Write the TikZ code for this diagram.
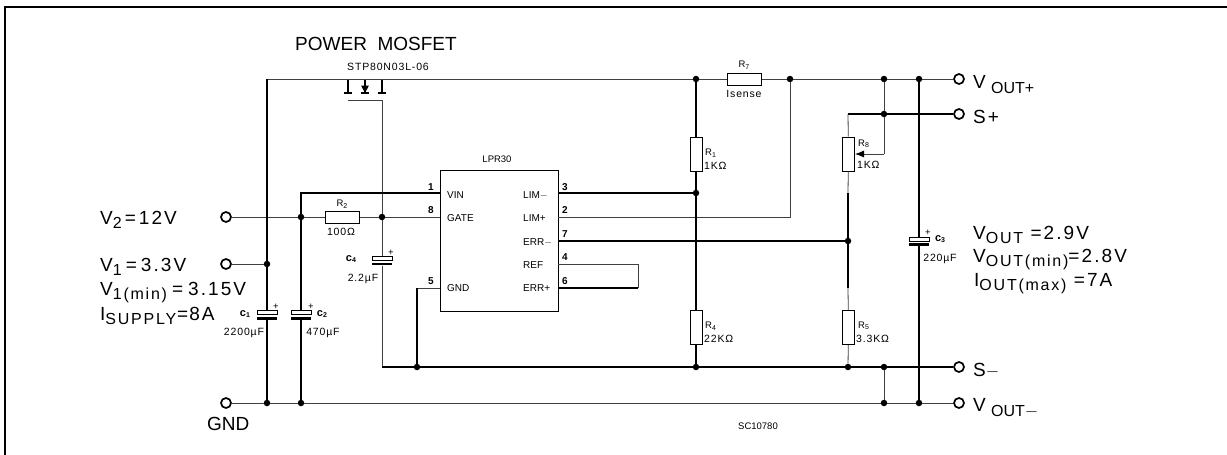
\documentclass[tikz,border=0pt]{standalone}
\usepackage{fontspec}
\setmainfont{Liberation Sans}
\newfontfamily\widefont[LetterSpace=11]{Liberation Sans}
\newfontfamily\valfont[LetterSpace=8]{Liberation Sans}
\usetikzlibrary{arrows.meta}

\newcommand{\lowsub}[2][4pt]{\raisebox{-#1}{\fontsize{16}{16}\selectfont #2}}
\newcommand{\tinysub}[1]{\raisebox{-1.5pt}{\fontsize{7}{7}\selectfont #1}}

\tikzset{
    wire/.style={line width=0.8pt,black!75},
    bus/.style={line width=1.5pt,black},
    dotstyle/.style={draw=none,fill=black,shape=circle,minimum size=6.5pt,inner sep=0pt},
    termstyle/.style={draw,shape=circle,line width=1.7pt,minimum size=10pt,inner sep=0pt,fill=white},
    resH/.style={draw,line width=1pt,minimum width=34pt,minimum height=12pt,inner sep=0pt},
    resV/.style={draw,line width=1pt,minimum width=12pt,minimum height=34pt,inner sep=0pt},
    capTop/.style={draw,line width=0.9pt,minimum width=20pt,minimum height=4pt,inner sep=0pt},
    capBot/.style={draw=none,fill=black,minimum width=20pt,minimum height=2.6pt,inner sep=0pt},
    biglabel/.style={anchor=base west,inner sep=0pt,font=\fontsize{19}{19}\selectfont},
    widelabel/.style={biglabel,font=\fontsize{19}{19}\selectfont\widefont},
    smalltext/.style={inner sep=0pt,font=\fontsize{9.5}{10}\selectfont},
    caplabel/.style={inner sep=0pt,font=\fontsize{11}{11}\selectfont\bfseries},
    valtext/.style={inner sep=0pt,font=\fontsize{10.5}{11}\selectfont\valfont},
    pinlabel/.style={inner sep=0pt,font=\fontsize{10}{10}\selectfont},
    pinnumber/.style={inner sep=0pt,font=\fontsize{10}{10}\selectfont\bfseries}
}

\begin{document}
\begin{tikzpicture}[x=1pt,y=-1pt]

    \useasboundingbox (0,0) rectangle (1227,455);
    \draw[line width=1.4pt] (5,455) -- (5,7) -- (1227,7);

    % terminals
    \node[termstyle] (tV2) at (226,217) {};
    \node[termstyle] (tV1) at (226,264) {};
    \node[termstyle] (tGND) at (226,403) {};
    \node[termstyle] (tVp) at (959,79) {};
    \node[termstyle] (tSp) at (959,114) {};
    \node[termstyle] (tSm) at (959,367) {};
    \node[termstyle] (tVm) at (959,403) {};

    % junctions
    \node[dotstyle] (d1) at (267,264) {};
    \node[dotstyle] (d2) at (267,403) {};
    \node[dotstyle] (d3) at (301,217) {};
    \node[dotstyle] (d4) at (301,403) {};
    \node[dotstyle] (d5) at (382,217) {};
    \node[dotstyle] (d6) at (417,367) {};
    \node[dotstyle] (d7) at (696,79) {};
    \node[dotstyle] (d8) at (696,193) {};
    \node[dotstyle] (d9) at (696,367) {};
    \node[dotstyle] (d10) at (790,79) {};
    \node[dotstyle] (d11) at (884,79) {};
    \node[dotstyle] (d12) at (919,79) {};
    \node[dotstyle] (d13) at (884,114) {};
    \node[dotstyle] (d14) at (848,241) {};
    \node[dotstyle] (d15) at (848,367) {};
    \node[dotstyle] (d16) at (884,367) {};
    \node[dotstyle] (d17) at (884,403) {};
    \node[dotstyle] (d18) at (919,403) {};

    % resistors
    \node[resH] (r2) at (342,217) {};
    \node[resH] (r7) at (744,79) {};
    \node[resV] (r1) at (696,154) {};
    \node[resV] (r4) at (696,327.5) {};
    \node[resV] (r8) at (848.5,154) {};
    \node[resV] (r5) at (848.5,327.5) {};

    % capacitors
    \node[capTop] (c1t) at (267,312) {};
    \node[capBot] (c1b) at (267,318.5) {};
    \node[capTop] (c2t) at (301,312) {};
    \node[capBot] (c2b) at (301,318.5) {};
    \node[capTop] (c4t) at (382,258) {};
    \node[capBot] (c4b) at (382,264) {};
    \node[capTop] (c3t) at (919,239) {};
    \node[capBot] (c3b) at (919,244.5) {};

    % LPR30
    \node[draw,line width=1pt,minimum width=118pt,minimum height=141pt,inner sep=0pt] (ic) at (499,240.5) {};
    \coordinate (i1) at (440,193);
    \coordinate (i8) at (440,217);
    \coordinate (i5) at (440,288);
    \coordinate (i3) at (558,193);
    \coordinate (i2) at (558,217);
    \coordinate (i7) at (558,241);
    \coordinate (i4) at (558,264);
    \coordinate (i6) at (558,288);

    % helper points
    \coordinate (a1) at (267,79);
    \coordinate (a2) at (301,193);
    \coordinate (a3) at (417,288);
    \coordinate (a4) at (638,264);
    \coordinate (a5) at (638,288);
    \coordinate (a6) at (790,217);
    \coordinate (a7) at (848,114);
    \coordinate (a8) at (848,193);
    \coordinate (a9) at (848,288);
    \coordinate (a10) at (884,154);
    \coordinate (a11) at (382,367);

    % mosfet
    \coordinate (m1) at (348,79);
    \coordinate (m2) at (348,93);
    \coordinate (m3) at (365,79);
    \coordinate (m4) at (365,93);
    \coordinate (m5) at (382,79);
    \coordinate (m6) at (382,93);
    \coordinate (m7) at (348,100);
    \coordinate (m8) at (382,100);
    \draw[line width=1.1pt] (m1) -- (m2);
    \draw[line width=1.1pt] (m3) -- (m4);
    \draw[line width=1.1pt] (m5) -- (m6);
    \draw[line width=1.4pt] ([xshift=-4pt]m2) -- ([xshift=4pt]m2);
    \draw[line width=1.4pt] ([xshift=-4pt]m4) -- ([xshift=4pt]m4);
    \draw[line width=1.4pt] ([xshift=-4pt]m6) -- ([xshift=4pt]m6);
    \fill ([shift={(-4pt,-6.5pt)}]m3) -- ([shift={(4pt,-6.5pt)}]m3) -- (m4) -- cycle;

    % thin wires
    \draw[wire] (a1) -- (d7) -- (r7) -- (d10) -- (d11) -- (d12) -- (tVp);
    \draw[wire] (m7) -- (m8) -- (d5) -- (c4t);
    \draw[wire] (c4b) -- (a11);
    \draw[wire] (tV2) -- (d3) -- (r2) -- (d5) -- (i8);
    \draw[wire] (tV1) -- (d1);
    \draw[wire] (tGND) -- (d2) -- (d4) -- (d17) -- (d18) -- (tVm);
    \draw[wire] (i5) -- (a3);
    \draw[wire] (i2) -- (a6) -- (d10);
    \draw[wire] (i4) -- (a4) -- (a5);
    \draw[wire] (a7) -- (r8) -- (a8);
    \draw[wire] (a9) -- (r5) -- (d15);
    \draw[wire] (d11) -- (d13);
    \draw[wire] (d13) -- (a10);
    \draw[wire,-{Latex[black,length=9pt,width=7pt]}] (a10) -- (r8);
    \draw[wire] (d16) -- (d17);

    % heavy wires
    \draw[bus] (a1) -- (d1) -- (c1t);
    \draw[bus] (c1b) -- (d2);
    \draw[bus] (i1) -- (a2) -- (d3) -- (c2t);
    \draw[bus] (c2b) -- (d4);
    \draw[bus] (a11) -- (d6) -- (d9) -- (d15) -- (d16) -- (tSm);
    \draw[bus] (a3) -- (d6);
    \draw[bus] (a5) -- (i6);
    \draw[bus] (i3) -- (d8);
    \draw[bus] (i7) -- (d14);
    \draw[bus] (d7) -- (r1) -- (d8) -- (r4) -- (d9);
    \draw[bus] (a8) -- (d14) -- (a9);
    \draw[bus] (a7) -- (d13) -- (tSp);
    \draw[bus] (d12) -- (c3t);
    \draw[bus] (c3b) -- (d18);

    % chip texts
    \node[pinlabel,anchor=west] (tVIN) at (447,195) {VIN};
    \node[pinlabel,anchor=west] (tGATE) at (447,218) {GATE};
    \node[pinlabel,anchor=west] (tGNDi) at (447,288) {GND};
    \node[pinlabel,anchor=west] (tLIMm) at (523,195) {LIM$-$};
    \node[pinlabel,anchor=west] (tLIMp) at (523,218) {LIM+};
    \node[pinlabel,anchor=west] (tERRm) at (523,242) {ERR$-$};
    \node[pinlabel,anchor=west] (tREF) at (523,265) {REF};
    \node[pinlabel,anchor=west] (tERRp) at (523,288) {ERR+};
    \node[pinnumber] (n1) at (431,187) {1};
    \node[pinnumber] (n8) at (431,210) {8};
    \node[pinnumber] (n5) at (431,281) {5};
    \node[pinnumber] (n3) at (565,187) {3};
    \node[pinnumber] (n2) at (565,210) {2};
    \node[pinnumber] (n7) at (565,234) {7};
    \node[pinnumber] (n4) at (565,257) {4};
    \node[pinnumber] (n6) at (565,281) {6};
    \node[smalltext] (tLPR) at (497,159) {LPR30};
    \node[valtext] (tSTP) at (388,67) {STP80N03L-06};
    \node[smalltext] (tSC) at (758,426) {SC10780};

    % part values
    \node[smalltext] (lR2) at (342,204) {R\tinysub{2}};
    \node[valtext] (vR2) at (341,232) {100Ω};
    \node[smalltext] (lR7) at (744,65) {R\tinysub{7}};
    \node[valtext] (vR7) at (744,94) {Isense};
    \node[smalltext,anchor=west] (lR1) at (705,153) {R\tinysub{1}};
    \node[valtext,anchor=west] (vR1) at (704,166) {1KΩ};
    \node[smalltext,anchor=west] (lR4) at (705,326) {R\tinysub{4}};
    \node[valtext,anchor=west] (vR4) at (704,339) {22KΩ};
    \node[smalltext,anchor=west] (lR8) at (858,144) {R\tinysub{8}};
    \node[valtext,anchor=west] (vR8) at (857,165) {1KΩ};
    \node[smalltext,anchor=west] (lR5) at (858,326) {R\tinysub{5}};
    \node[valtext,anchor=west] (vR5) at (856,339) {3.3KΩ};
    \node[caplabel] (lC1) at (245,314) {c\tinysub{1}};
    \node[valtext] (vC1) at (244,333) {2200µF};
    \node[caplabel] (lC2) at (322,314) {c\tinysub{2}};
    \node[valtext] (vC2) at (323,333) {470µF};
    \node[caplabel] (lC4) at (351,259) {c\tinysub{4}};
    \node[valtext] (vC4) at (363,279) {2.2µF};
    \node[caplabel] (lC3) at (940,239) {c\tinysub{3}};
    \node[valtext] (vC3) at (940,259) {220µF};
    \node[smalltext] (pC1) at (276,307) {+};
    \node[smalltext] (pC2) at (311,307) {+};
    \node[smalltext] (pC4) at (391,253) {+};
    \node[smalltext] (pC3) at (928,233) {+};

    % big texts
    \node[biglabel] (tPOWER) at (295,50.5) {POWER\ \ MOSFET};
    \node[widelabel] (tA) at (100,224) {V\lowsub{2}\hspace{3pt}=\hspace{3pt}12V};
    \node[widelabel] (tB) at (100,271) {V\lowsub{1}\hspace{4pt}=\hspace{4pt}3.3V};
    \node[widelabel] (tC) at (100,295) {V\lowsub{1(min)}\hspace{5pt}=\hspace{5pt}3.15V};
    \node[widelabel] (tD) at (100,320) {I\lowsub{SUPPLY}\hspace{1pt}=\hspace{1pt}8A};
    \node[biglabel] (tE) at (207,430) {GND};
    \node[biglabel] (tF) at (973,88) {V\ \lowsub[5pt]{OUT+}};
    \node[widelabel] (tG) at (973,123) {S+};
    \node[widelabel] (tH) at (973,376) {S$-$};
    \node[biglabel] (tI) at (973,411) {V\ \lowsub[5pt]{OUT$-$}};
    \node[widelabel] (tJ) at (973,239) {V\lowsub{OUT}\ =2.9V};
    \node[widelabel] (tK) at (973,262) {V\lowsub{OUT(min)}=2.8V};
    \node[widelabel] (tL) at (974,286) {I\lowsub{OUT(max)}\ =7A};

\end{tikzpicture}
\end{document}
